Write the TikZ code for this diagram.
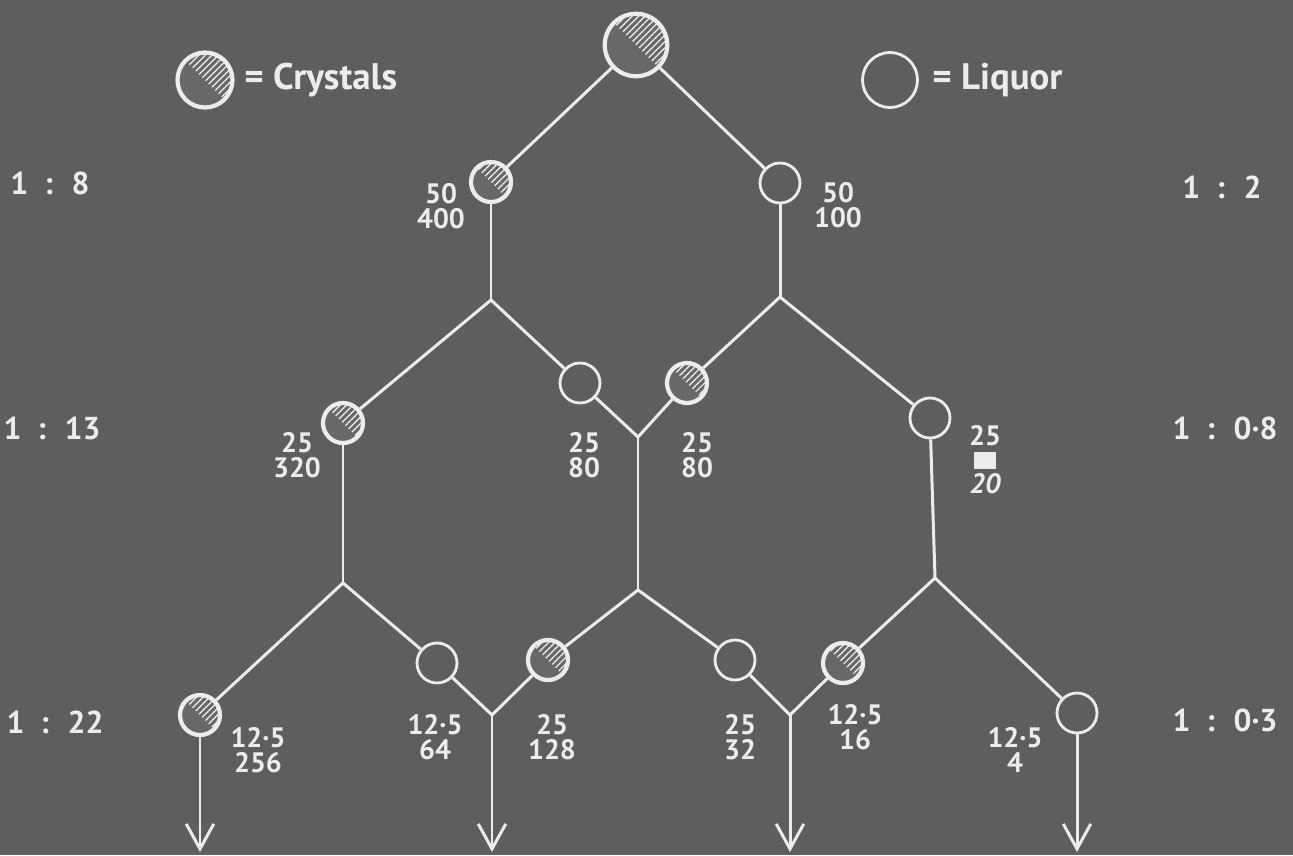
\documentclass[tikz,border=0pt]{standalone}
\usepackage{fontspec}
\setsansfont{PT Sans}
\usetikzlibrary{arrows.meta,patterns.meta}
\definecolor{board}{RGB}{94,94,94}
\definecolor{chalk}{RGB}{236,236,236}
\definecolor{crysfill}{RGB}{104,104,104}
\tikzset{every node/.append style={execute at begin node={\sffamily\bfseries}}}

\begin{document}
\begin{tikzpicture}[x=0.2mm,y=-0.2mm,
 crys/.style={circle,draw=chalk,line width=2.4pt,fill=crysfill,inner sep=0pt,minimum size=8mm,
   path picture={\fill[pattern={Lines[angle=45,distance=2.6pt,line width=0.7pt]},pattern color=chalk!85]
     (path picture bounding box.north west) -- (path picture bounding box.north east) -- (path picture bounding box.south east) -- cycle;}},
 liq/.style={circle,draw=chalk,line width=1.6pt,inner sep=0pt,minimum size=8mm},
 num/.style={text=chalk,align=center,font=\fontsize{16}{14.5}\selectfont,inner sep=0pt},
 rat/.style={text=chalk,font=\fontsize{18}{18}\selectfont,inner sep=0pt},
 lgd/.style={text=chalk,anchor=west,font=\fontsize{21}{21}\selectfont,inner sep=0pt},
 ln/.style={draw=chalk,line width=1.7pt},
 ar/.style={ln,-{Straight Barb[length=5mm,width=5.5mm]}}]
\fill[board] (0,0) rectangle (1293,855);
\node[crys,minimum size=12.5mm] (feed) at (636,45) {};
\node[crys,minimum size=11mm] (lgc) at (205,80) {};
\node[lgd] (lgct) at (244,80) {= Crystals};
\node[liq,minimum size=11mm] (lgl) at (890,80) {};
\node[lgd] (lglt) at (932,80) {= Liquor};
\node[crys] (c1) at (491,182) {};
\node[liq] (l1) at (780,183) {};
\node[crys] (c2) at (343,423) {};
\node[liq] (l2) at (580,383) {};
\node[crys] (c3) at (687,383) {};
\node[liq] (l3) at (930,418) {};
\node[crys] (c4) at (200,715) {};
\node[liq] (l4) at (437,663) {};
\node[crys] (c5) at (548,660) {};
\node[liq] (l5) at (735,660) {};
\node[crys] (c6) at (843,663) {};
\node[liq] (l6) at (1077,713) {};
\coordinate (j1) at (491,300); \coordinate (j2) at (780,297);
\coordinate (j3) at (343,583); \coordinate (j4) at (638,437);
\coordinate (j5) at (638,590); \coordinate (j6) at (935,578);
\coordinate (j7) at (492,715); \coordinate (j8) at (790,715);
\coordinate (e1) at (200,852); \coordinate (e2) at (492,852);
\coordinate (e3) at (790,852); \coordinate (e4) at (1077,852);
\draw[ln] (feed) -- (c1); \draw[ln] (feed) -- (l1);
\draw[ln] (c1) -- (j1); \draw[ln] (l1) -- (j2);
\draw[ln] (j1) -- (c2); \draw[ln] (j1) -- (l2);
\draw[ln] (j2) -- (c3); \draw[ln] (j2) -- (l3);
\draw[ln] (l2) -- (j4); \draw[ln] (c3) -- (j4); \draw[ln] (j4) -- (j5);
\draw[ln] (c2) -- (j3); \draw[ln] (l3) -- (j6);
\draw[ln] (j3) -- (c4); \draw[ln] (j3) -- (l4);
\draw[ln] (j5) -- (c5); \draw[ln] (j5) -- (l5);
\draw[ln] (j6) -- (c6); \draw[ln] (j6) -- (l6);
\draw[ln] (l4) -- (j7); \draw[ln] (c5) -- (j7);
\draw[ln] (l5) -- (j8); \draw[ln] (c6) -- (j8);
\draw[ar] (c4) -- (e1); \draw[ar] (j7) -- (e2);
\draw[ar] (j8) -- (e3); \draw[ar] (l6) -- (e4);
\node[num] (n1) at (441,206) {50\\400};
\node[num] (n2) at (838,205) {50\\100};
\node[num] (n3) at (297,455) {25\\320};
\node[num] (n4) at (584,455) {25\\80};
\node[num] (n5) at (697,455) {25\\80};
\node[num] (n6) at (985,436) {25};
\node[fill=chalk,minimum width=4.4mm,minimum height=3.4mm,inner sep=0pt] (blot) at (985,460) {};
\node[num,font=\fontsize{16}{14.5}\selectfont\mdseries\itshape] (n6b) at (985,484) {20};
\node[num] (n7) at (258,750) {12·5\\256};
\node[num] (n8) at (435,737) {12·5\\64};
\node[num] (n9) at (552,737) {25\\128};
\node[num] (n10) at (740,737) {25\\32};
\node[num] (n11) at (855,727) {12·5\\16};
\node[num] (n12) at (1015,750) {12·5\\4};
\node[rat] (r1) at (50,183) {1 \ : \ 8};
\node[rat] (r2) at (52,428) {1 \ : \ 13};
\node[rat] (r3) at (55,722) {1 \ : \ 22};
\node[rat] (r4) at (1222,187) {1 \ : \ 2};
\node[rat] (r5) at (1225,428) {1 \ : \ 0·8};
\node[rat] (r6) at (1225,720) {1 \ : \ 0·3};
\end{tikzpicture}
\end{document}
